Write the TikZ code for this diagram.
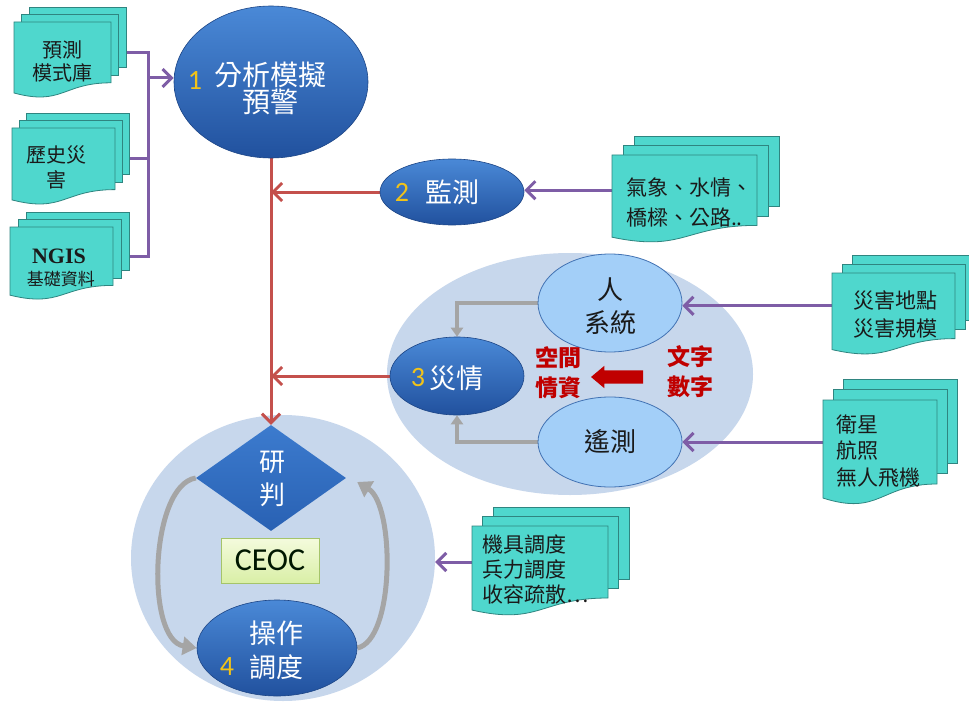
\documentclass[tikz,border=0pt]{standalone}
\usepackage{fontspec}
\setmainfont{Noto Sans CJK TC}
\newfontfamily\numfont{Carlito}
\newfontfamily\ngisfont{Liberation Serif}
\usetikzlibrary{shapes.geometric,shapes.arrows,arrows.meta,calc}
\pgfdeclarelayer{bg}\pgfdeclarelayer{conn}
\pgfsetlayers{bg,conn,main}
\definecolor{docfill}{HTML}{4FD7CD}
\definecolor{docline}{HTML}{2F8580}
\definecolor{purp}{HTML}{7E5DA6}
\definecolor{redl}{HTML}{C4504C}
\definecolor{grp}{HTML}{C7D7EC}
\definecolor{dkTop}{HTML}{4A89D7}
\definecolor{dkBot}{HTML}{21519E}
\definecolor{dmTop}{HTML}{3C7BCE}
\definecolor{dmBot}{HTML}{2961B3}
\definecolor{ltfill}{HTML}{A3CFF8}
\definecolor{ltline}{HTML}{4272B3}
\definecolor{numy}{HTML}{F2C318}
\definecolor{redtxt}{HTML}{C00000}
\definecolor{grayc}{HTML}{A5A5A5}
\definecolor{ceocTop}{HTML}{F4FBDD}
\definecolor{ceocBot}{HTML}{D9EFA6}
\definecolor{ceocLine}{HTML}{A5C46A}
\definecolor{doctxt}{HTML}{1A1A1A}
\tikzset{
  dkell/.style={ellipse, inner sep=0pt, top color=dkTop, bottom color=dkBot, draw=dkBot!85!black, line width=0.6pt},
  ltell/.style={ellipse, inner sep=0pt, fill=ltfill, draw=ltline, line width=0.8pt},
  grpell/.style={ellipse, inner sep=0pt, fill=grp},
  wtxt/.style={text=white, inner sep=0pt, align=center, font=\fontsize{27}{33}\selectfont},
  numtxt/.style={text=numy, inner sep=0pt, font=\numfont\fontsize{28}{30}\selectfont},
  redtext/.style={text=redtxt, inner sep=0pt, align=center, font=\bfseries\fontsize{23}{30}\selectfont},
  docpage/.style={fill=docfill, draw=docline, line width=0.8pt},
  docframe/.style={inner sep=0pt, draw=none},
  doctext/.style={text=doctxt, inner sep=0pt, font=\fontsize{21}{26}\selectfont},
  purpline/.style={draw=purp, line width=3pt},
  purparrow/.style={draw=purp, line width=3pt, -{Straight Barb[length=9pt,width=18pt]}},
  redarrow/.style={draw=redl, line width=3pt, -{Straight Barb[length=9pt,width=18pt]}},
  grayarrow/.style={draw=grayc, line width=3.5pt, -{Triangle[length=9pt,width=12pt]}},
  grayarc/.style={draw=grayc, line width=5pt, -{Triangle[length=14pt,width=18pt]}},
}
% #1 name, #2 left, #3 top, #4 right, #5 height, #6 dx, #7 dy
\newcommand\mdoc[7]{%
  \path[docpage] ({#2+2*#6},{#3-2*#7}) rectangle ({#4+2*#6},{#3+0.8*#5-2*#7});
  \path[docpage] ({#2+#6},{#3-#7}) rectangle ({#4+#6},{#3+0.8*#5-#7});
  \path[docpage] (#2,#3) -- (#4,#3) -- (#4,{#3+0.8*#5})
     .. controls ({(#2+#4)/2},{#3+0.8*#5}) and ({(#2+#4)/2},{#3+1.107*#5}) .. (#2,{#3+0.934*#5}) -- cycle;
  \pgfmathsetmacro\mdw{#4-#2}\pgfmathsetmacro\mdh{0.8*#5}%
  \node[docframe, minimum width=\mdw pt, minimum height=\mdh pt] (#1) at ({(#2+#4)/2},{#3+0.4*#5}) {};
}
\begin{document}
\begin{tikzpicture}[x=1pt,y=-1pt]
\begin{pgfonlayer}{bg}
  \fill[white] (0,0) rectangle (969,706);
  \node[grpell, minimum width=366pt, minimum height=242pt] (g3) at (570,374) {};
  \node[grpell, minimum width=304pt, minimum height=286pt] (g4) at (283,558) {};
\end{pgfonlayer}
\useasboundingbox (0,0) rectangle (969,706);

% documents
\mdoc{d1}{14}{22}{111}{76}{7.5}{7.5}
\mdoc{d2}{12}{128}{115}{77}{7}{7.5}
\mdoc{d3}{10}{227}{113}{73}{8}{7.5}
\mdoc{dW}{612}{155}{757}{88}{11}{9.5}
\mdoc{dA}{832}{273}{955}{82}{10}{9}
\mdoc{dS}{823}{400}{937}{105}{10}{10.5}
\mdoc{dM}{472}{526}{608}{90}{10.5}{9.5}

\node[doctext, align=center, font=\fontsize{20}{23}\selectfont] (d1t) at (62,61) {預測\\模式庫};
\node[doctext, align=center, font=\fontsize{20}{25}\selectfont] (d2t) at (57,167) {歷史災\\害};
\node[doctext, font=\ngisfont\bfseries\fontsize{22}{22}\selectfont] (d3a) at (59,256) {NGIS};
\node[doctext, font=\fontsize{17}{17}\selectfont] (d3b) at (61,279) {基礎資料};
\node[doctext, align=left, font=\fontsize{21}{30}\selectfont] (dWt) at (689,202) {氣象、水情、\\橋樑、公路..};
\node[doctext, align=center, font=\fontsize{21}{28}\selectfont] (dAt) at (895,314) {災害地點\\災害規模};
\node[doctext, align=left, anchor=west, font=\fontsize{21}{26.5}\selectfont] (dSt) at (836,451) {衛星\\航照\\無人飛機};
\node[doctext, align=left, anchor=west, font=\fontsize{21}{25}\selectfont] (dMt) at (482,570) {機具調度\\兵力調度\\收容疏散…};

% main ellipses
\node[dkell, minimum width=194pt, minimum height=152pt] (e1) at (271,82) {};
\node[wtxt, font=\fontsize{28}{27}\selectfont] (e1t) at (270,88) {分析模擬\\預警};
\node[numtxt] (n1) at (195,80) {1};

\node[dkell, minimum width=144pt, minimum height=66pt] (e2) at (452,192) {};
\node[wtxt] (e2t) at (452,192) {監測};
\node[numtxt] (n2) at (402,192) {2};

\node[dkell, minimum width=134pt, minimum height=78pt] (e3) at (457,376) {};
\node[wtxt] (e3t) at (456,378) {災情};
\node[numtxt] (n3) at (418,378) {3};

\node[ltell, minimum width=144pt, minimum height=98pt] (hs) at (610,303) {};
\node[wtxt, text=doctxt, font=\fontsize{26}{33}\selectfont] (hst) at (610,306) {人\\系統};
\node[ltell, minimum width=144pt, minimum height=90pt] (rs) at (610,442) {};
\node[wtxt, text=doctxt, font=\fontsize{26}{33}\selectfont] (rst) at (610,442) {遙測};

\node[redtext] (rt1) at (558,373) {空間\\情資};
\node[redtext] (rt2) at (690,372) {文字\\數字};
\node[single arrow, shape border rotate=180, fill=redtxt, inner xsep=0pt, inner ysep=6.5pt,
      minimum height=52pt, single arrow head extend=4.5pt,
      single arrow tip angle=80] (rarr) at (621,377) {};

% group 4
\node[diamond, inner sep=0pt, minimum width=150pt, minimum height=106pt, top color=dmTop, bottom color=dmBot] (dm) at (271,478) {};
\node[wtxt, font=\fontsize{26}{33}\selectfont] (dmt) at (272,479) {研\\判};
\node[rectangle, minimum width=98pt, minimum height=45pt, top color=ceocTop, bottom color=ceocBot, draw=ceocLine, line width=0.8pt,
      text=black!85!green!60!black, font=\numfont\fontsize{32}{32}\selectfont, inner sep=0pt] (ceoc) at (270,560.5) {CEOC};
\node[dkell, minimum width=160pt, minimum height=96pt] (e4) at (277,648) {};
\node[wtxt, font=\fontsize{27}{34}\selectfont] (e4t) at (276,650) {操作\\調度};
\node[numtxt] (n4) at (227,667) {4};

% connectors
\begin{pgfonlayer}{conn}
  \coordinate (busA) at (148,78);
  \draw[purpline] (d1.east) -| (d3.east -| busA) -- (d3.east);
  \draw[purpline] (d2.east) -- (d2.east -| busA);
  \draw[purparrow] (busA) -- (busA -| e1.west);
  \draw[purparrow] (dW.west) -- (dW.west -| e2.east);
  \draw[purparrow] (dA.west) -- (dA.west -| hs.east);
  \draw[purparrow] (dS.west) -- (dS.west -| rs.east);
  \draw[purparrow] (dM.west) -- (dM.west -| g4.east);

  \draw[redarrow] (e1.south) -- (dm.north);
  \draw[redarrow] (e2.west) -- (e2.west -| e1.south);
  \draw[redarrow] (e3.west) -- (e3.west -| e1.south);

  \draw[grayarrow] (hs.west) -| (e3.north);
  \draw[grayarrow] (rs.west) -| (e3.south);

  \coordinate (arcEnd) at ($(dm.east)+(11,4)$);
  \draw[grayarc] (dm.west) .. controls (150,485) and (145,640) .. (e4.west);
  \draw[grayarc] (e4.east) .. controls (395,640) and (395,505) .. (arcEnd);
\end{pgfonlayer}
\end{tikzpicture}
\end{document}
